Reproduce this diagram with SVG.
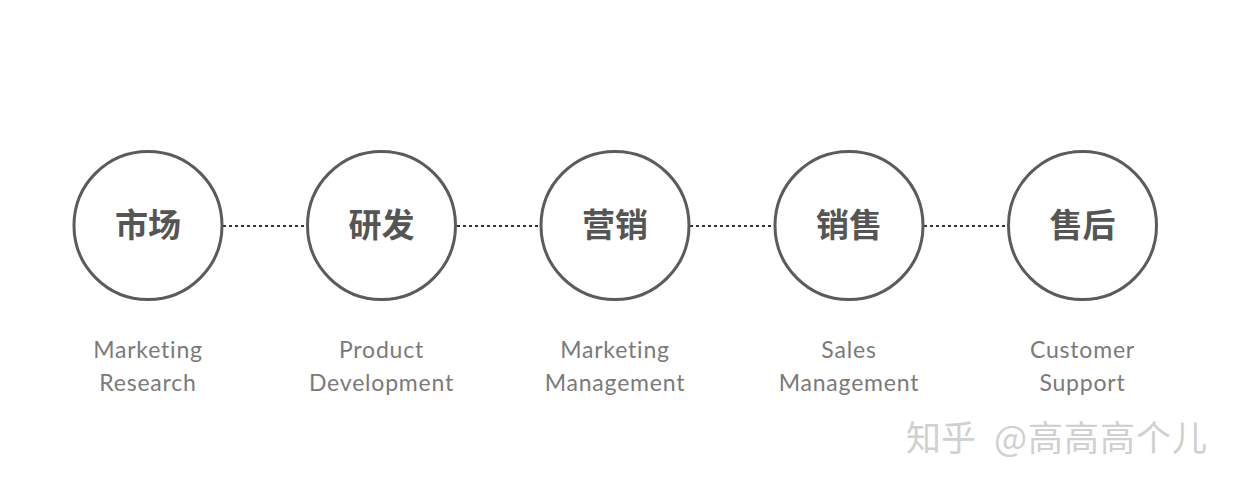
<svg xmlns="http://www.w3.org/2000/svg" width="1240" height="488" viewBox="0 0 1240 488">
<style>
.node circle{fill:#fff;stroke:#5b5b5b;stroke-width:3}
.cn{font-family:"Noto Sans CJK SC",sans-serif;font-weight:700;font-size:33px;fill:#555;text-anchor:middle}
.en{font-family:Lato,"Open Sans",sans-serif;font-size:23px;fill:#7a7a7a;text-anchor:middle;letter-spacing:0.8px}
.conn line{stroke:#333;stroke-width:2;stroke-dasharray:3 3}
.wm{font-family:"Noto Sans CJK SC",sans-serif;font-size:35px;fill:#d0d0d0}
</style>
<rect width="1240" height="488" fill="#fff"/>
<g class="conn" id="connectors">
<line x1="223" y1="226" x2="306" y2="226"/>
<line x1="457" y1="226" x2="540" y2="226"/>
<line x1="690" y1="226" x2="774" y2="226"/>
<line x1="924" y1="226" x2="1007" y2="226"/>
</g>
<g class="node" id="n1"><circle cx="148" cy="225.5" r="74"/><text class="cn" x="148" y="237">市场</text><text class="en" x="148" y="358">Marketing</text><text class="en" x="148" y="391">Research</text></g>
<g class="node" id="n2"><circle cx="381.5" cy="225.5" r="74"/><text class="cn" x="381.5" y="237">研发</text><text class="en" x="381.5" y="358">Product</text><text class="en" x="381.5" y="391">Development</text></g>
<g class="node" id="n3"><circle cx="615" cy="225.5" r="74"/><text class="cn" x="615" y="237">营销</text><text class="en" x="615" y="358">Marketing</text><text class="en" x="615" y="391">Management</text></g>
<g class="node" id="n4"><circle cx="849" cy="225.5" r="74"/><text class="cn" x="849" y="237">销售</text><text class="en" x="849" y="358">Sales</text><text class="en" x="849" y="391">Management</text></g>
<g class="node" id="n5"><circle cx="1082.5" cy="225.5" r="74"/><text class="cn" x="1082.5" y="237">售后</text><text class="en" x="1082.5" y="358">Customer</text><text class="en" x="1082.5" y="391">Support</text></g>
<g id="watermark"><text class="wm" x="906" y="451">知乎</text><text class="wm" x="1208" y="451" text-anchor="end" letter-spacing="1">@高高高个儿</text></g>
</svg>
